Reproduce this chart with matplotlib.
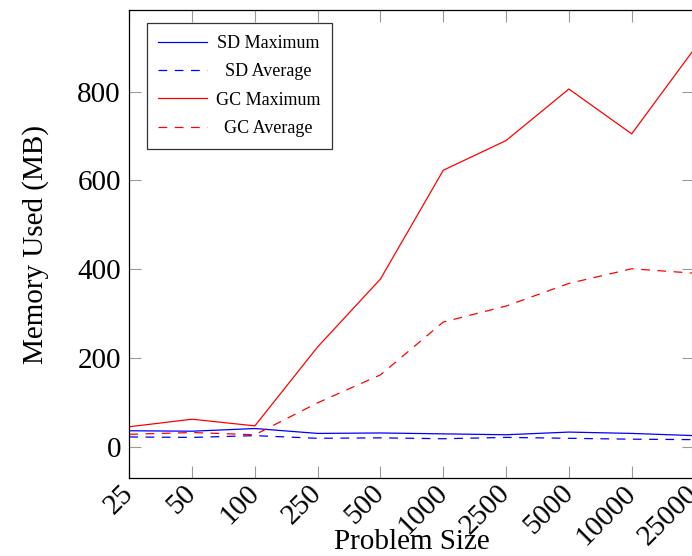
import matplotlib.pyplot as plt
import numpy as np

sizes = ['25', '50', '100', '250', '500', '1000', '2500', '5000', '10000', '25000']
sd_max = [36, 35, 41, 30, 31, 29, 27, 33, 30, 25]
sd_avg = [22, 21, 25, 19, 20, 18, 21, 19, 17, 16]
gc_max = [45, 62, 47, 225, 378, 623, 690, 806, 705, 897]
gc_avg = [28, 32, 27, 99, 162, 281, 317, 368, 401, 391]

plt.rcParams['font.family'] = ['Liberation Serif', 'DejaVu Serif']

fig = plt.figure(figsize=(6.92, 5.56), dpi=100)
ax = fig.add_axes([0.1868, 0.1397, 0.8168, 0.8423])

ind = np.arange(len(sizes))
lw = 0.9
ax.plot(ind, sd_max, color='#0000ff', lw=lw, label='SD Maximum')
ax.plot(ind, sd_avg, color='#0000ff', lw=lw, dashes=(7, 6), label='SD Average')
ax.plot(ind, gc_max, color='#ff0000', lw=lw, label='GC Maximum')
ax.plot(ind, gc_avg, color='#ff0000', lw=lw, dashes=(7, 6), label='GC Average')

ax.set_xlim(0, 9)
ax.set_ylim(-71.2, 984.1)
ax.set_yticks([0, 200, 400, 600, 800])
ax.set_xticks(ind)
ax.set_xticklabels(sizes, rotation=45, ha='right', va='center', rotation_mode='anchor')

ax.tick_params(axis='both', direction='in', length=8.6, width=0.8, color='0.6',
               labelsize=21, top=True, right=True, pad=6)
ax.tick_params(axis='x', pad=8)
for s in ax.spines.values():
    s.set_linewidth(0.9)
    s.set_color('black')

ax.set_ylabel('Memory Used (MB)', fontsize=21)
ax.set_xlabel('Problem Size', fontsize=21)
ax.yaxis.set_label_coords(-0.166, 0.5)
ax.xaxis.set_label_coords(0.5, -0.135)
ax.xaxis.label.set_va('center')
ax.yaxis.label.set_va('center')

leg = ax.legend(loc='upper left', bbox_to_anchor=(0.0308, 0.9716), borderaxespad=0,
                fontsize=13, fancybox=False, framealpha=1, edgecolor='0.2',
                handlelength=2.7, labelspacing=0.63, borderpad=0.65, handletextpad=0.5)
leg.get_frame().set_linewidth(0.9)

# centre the label texts in their column, like the reference
fig.canvas.draw()
texts = leg.get_texts()
widths = [t.get_window_extent().width for t in texts]
wmax = max(widths)
for t, w in zip(texts, widths):
    t.set_x((wmax - w) / 2)

plt.savefig('out.png', dpi=100)
